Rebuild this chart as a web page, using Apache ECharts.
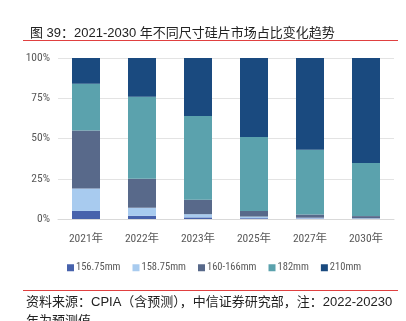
<!DOCTYPE html>
<html><head><meta charset="utf-8">
<script src="https://cdn.jsdelivr.net/npm/echarts@6/dist/echarts.min.js"></script>
<style>html,body{margin:0;padding:0;background:#fff;}#c{width:406px;height:321px;}</style>
</head><body><div id="c"></div>
<script>
const categories = ['2021年','2022年','2023年','2025年','2027年','2030年'];
const s156 = [5, 2, 1, 0.5, 0.3, 0.2];
const s158 = [14, 5, 2, 1, 0.5, 0.3];
const s160 = [36, 18, 9, 3.5, 2, 1.3];
const s182 = [29, 51, 52, 46, 40.2, 33];
const s210 = [16, 24, 36, 49, 57, 65.2];
const seriesNames = ['156.75mm','158.75mm','160-166mm','182mm','210mm'];
const colors = ['#4762AC','#A8CBEF','#58698A','#5BA2AD','#1A4A7F'];
const yTicks = ['0%','25%','50%','75%','100%'];
const font = '"Liberation Sans Narrow","Roboto Condensed","Noto Sans CJK SC",sans-serif';
const chart = echarts.init(document.getElementById('c'));
const dataArr = [s156, s158, s160, s182, s210];
chart.setOption({
  animation:false,
  color: colors,
  title:{text:'图 39：2021-2030 年不同尺寸硅片市场占比变化趋势', left:25, top:22,
    textStyle:{fontSize:13, fontWeight:'normal', color:'#222', fontFamily:'"Liberation Sans","Noto Sans CJK SC",sans-serif'}},
  graphic:[
    {type:'line', shape:{x1:23,y1:40.5,x2:398,y2:40.5}, style:{stroke:'#E04040', lineWidth:1}},
    {type:'line', shape:{x1:23,y1:290.5,x2:398,y2:290.5}, style:{stroke:'#E04040', lineWidth:1}},
    {type:'text', left:26, top:296, style:{text:'资料来源：CPIA（含预测），中信证券研究部，注：2022-20230', fontSize:13, fill:'#222', fontFamily:'"Liberation Sans","Noto Sans CJK SC",sans-serif'}},
    {type:'text', left:26, top:314, style:{text:'年为预测值', fontSize:13, fill:'#222', fontFamily:'"Noto Sans CJK SC",sans-serif'}}
  ],
  legend:{bottom:43, left:62, itemWidth:7, itemHeight:7, itemGap:12, icon:'rect',
    textStyle:{fontSize:10.5, color:'#595959', fontFamily:font, padding:[0,0,0,-3]}, data:seriesNames},
  grid:{left:58, right:12, top:58, bottom:102},
  xAxis:{type:'category', data:categories, axisTick:{show:false},
    axisLine:{lineStyle:{color:'#D9D9D9', width:1}},
    axisLabel:{fontSize:11.5, color:'#595959', fontFamily:font, margin:14}},
  yAxis:{type:'value', min:0, max:100, interval:25,
    axisLabel:{fontSize:11.5, color:'#595959', fontFamily:font, margin:8,
      formatter:v=>yTicks[Math.round(v/25)]},
    splitLine:{lineStyle:{color:'#E3E3E3', width:1}}, axisLine:{show:false}, axisTick:{show:false}},
  series: seriesNames.map((n,i)=>({name:n, type:'bar', stack:'a', barWidth:'50%', data:dataArr[i]}))
});
</script></body></html>
